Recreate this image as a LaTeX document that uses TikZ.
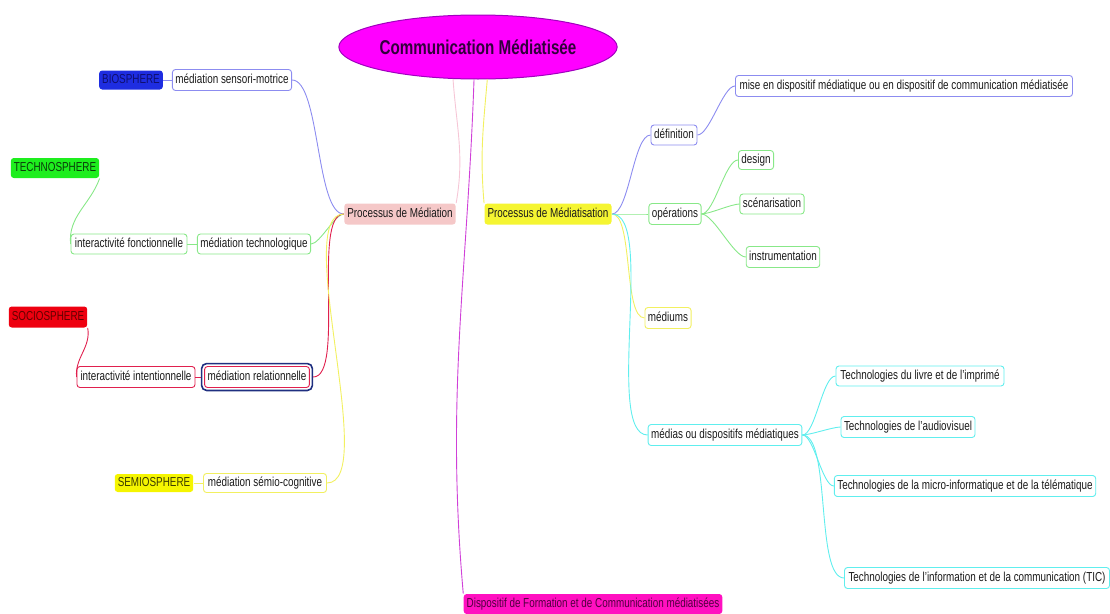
\documentclass[tikz,border=0pt]{standalone}
\usepackage{fontspec}
\setmainfont{Liberation Sans}[FakeStretch=0.76]
\usetikzlibrary{fit,shapes.geometric}
\definecolor{cblue}{HTML}{8C8CF0}
\definecolor{cgreen}{HTML}{88E888}
\definecolor{cred}{HTML}{E0204E}
\definecolor{cyel}{HTML}{F2F060}
\definecolor{ccyan}{HTML}{60EEEE}
\definecolor{cpink}{HTML}{F6C6D6}
\definecolor{cmag}{HTML}{D040D8}
\definecolor{ctext}{HTML}{1A1A1A}
\definecolor{navyf}{HTML}{1F2F80}
\tikzset{
  box/.style={rounded corners=3pt, line width=0.9pt, fill=white, inner xsep=3pt, inner ysep=0pt,
    minimum height=20pt, text height=9.5pt, text depth=2.5pt, font=\fontsize{13}{14}\selectfont, text=ctext},
  sphere/.style={box, draw=none},
  link/.style={line width=0.9pt},
}
\begin{document}
\begin{tikzpicture}[x=1pt,y=-1pt]
\useasboundingbox (0,0) rectangle (1110,613);
% root
\node[ellipse, draw={rgb,255:red,160;green,0;blue,190}, line width=1pt, fill={rgb,255:red,255;green,0;blue,255},
  minimum width=222pt, minimum height=64pt, inner sep=0pt,
  font=\bfseries\fontsize{20}{21}\selectfont, text={rgb,255:red,50;green,0;blue,60}] (root) at (478,47) {Communication Médiatisée};
% left branch
\node[box, fill={rgb,255:red,245;green,200;blue,200}, draw=none, minimum width=110pt, minimum height=21pt] (pm) at (400,214) {Processus de Médiation};
\node[sphere, fill={rgb,255:red,30;green,45;blue,225}, text={rgb,255:red,15;green,15;blue,110}, minimum width=62pt, minimum height=19pt] (bio) at (131,80) {BIOSPHERE};
\node[box, draw=cblue, minimum width=119pt, minimum height=21pt] (sm) at (232,80) {médiation sensori-motrice};
\node[sphere, fill={rgb,255:red,30;green,238;blue,30}, text={rgb,255:red,10;green,60;blue,10}, minimum width=88pt] (techno) at (55,168) {TECHNOSPHERE};
\node[box, draw=cgreen, minimum width=116pt] (if) at (129,244) {interactivité fonctionnelle};
\node[box, draw=cgreen, minimum width=113pt] (mt) at (254,244) {médiation technologique};
\node[sphere, fill={rgb,255:red,238;green,0;blue,16}, text={rgb,255:red,100;green,0;blue,0}, minimum width=77pt, minimum height=21pt] (socio) at (48,317) {SOCIOSPHERE};
\node[box, draw=cred, minimum width=118pt, minimum height=21pt] (ii) at (136,377) {interactivité intentionnelle};
\node[box, draw=cred, minimum width=103pt, minimum height=21pt] (mr) at (257,377) {médiation relationnelle};
\node[fit=(mr), draw=navyf, rounded corners=5pt, line width=1.6pt, inner sep=2.5pt] (mrf) {};
\node[sphere, fill={rgb,255:red,245;green,245;blue,0}, text={rgb,255:red,60;green,60;blue,0}, minimum width=77pt, minimum height=18pt] (semio) at (154,483) {SEMIOSPHERE};
\node[box, draw=cyel, minimum width=123pt, minimum height=19pt] (sc) at (265,483) {médiation sémio-cognitive};
% right branch
\node[box, fill={rgb,255:red,245;green,245;blue,50}, draw=none, minimum width=127pt, minimum height=21pt] (pmt) at (548,214) {Processus de Médiatisation};
\node[box, draw=cblue, minimum width=46pt] (def) at (674,135) {définition};
\node[box, draw=cblue, minimum width=337pt, minimum height=21pt] (mise) at (904,86) {mise en dispositif médiatique ou en dispositif de communication médiatisée};
\node[box, draw=cgreen, minimum width=50pt, minimum height=21pt] (op) at (675,214) {opérations};
\node[box, draw=cgreen, minimum width=33pt, minimum height=19pt] (design) at (756,160) {design};
\node[box, draw=cgreen, minimum width=63pt] (scen) at (772,204) {scénarisation};
\node[box, draw=cgreen, minimum width=73pt, minimum height=21pt] (instr) at (783,257) {instrumentation};
\node[box, draw=cyel, minimum width=46pt, minimum height=21pt] (mdm) at (668,318) {médiums};
\node[box, draw=ccyan, minimum width=150pt, minimum height=21pt] (mdia) at (725,435) {médias ou dispositifs médiatiques};
\node[box, draw=ccyan, minimum width=168pt] (t1) at (920,376) {Technologies du livre et de l'imprimé};
\node[box, draw=ccyan, minimum width=133pt, minimum height=21pt] (t2) at (908,427) {Technologies de l'audiovisuel};
\node[box, draw=ccyan, minimum width=260pt, minimum height=21pt] (t3) at (965,486) {Technologies de la micro-informatique et de la télématique};
\node[box, draw=ccyan, minimum width=265pt, minimum height=21pt] (t4) at (977,578) {Technologies de l'information et de la communication (TIC)};
\node[box, fill={rgb,255:red,255;green,16;blue,192}, draw=none, minimum width=257pt, text={rgb,255:red,80;green,0;blue,64}] (disp) at (593,604) {Dispositif de Formation et de Communication médiatisées};
% connectors from root
\draw[link, cpink] (root.232) to[out=-86,in=80] (pm.north east);
\draw[link, cyel] (root.286) to[out=-95,in=95] (pmt.north west);
\draw[link, cmag] (root.263) to[out=-92,in=95] (disp.north west);
% left connectors
\draw[link, cblue] (pm.west) to[out=180,in=0,looseness=0.5] (sm.east);
\draw[link, cgreen] (pm.west) to[out=180,in=0,looseness=0.5] (mt.east);
\draw[link, cred] (pm.west) to[out=180,in=0,looseness=0.5] (mrf.east);
\draw[link, cyel] (pm.west) to[out=180,in=0,looseness=0.5] (sc.east);
\draw[link, cblue] (sm.west) -- (bio.east);
\draw[link, cgreen] (mt.west) -- (if.east);
\draw[link, cgreen] (if.west) to[out=95,in=-110] (techno.south east);
\draw[link, cred] (mrf.west) -- (ii.east);
\draw[link, cred] (ii.west) to[out=95,in=-80] (socio.south east);
\draw[link, cyel] (sc.west) -- (semio.east);
% right connectors
\draw[link, cblue] (pmt.east) to[out=0,in=180,looseness=0.5] (def.west);
\draw[link, cgreen] (pmt.east) to[out=0,in=180,looseness=0.5] (op.west);
\draw[link, cyel] (pmt.east) to[out=0,in=180,looseness=0.5] (mdm.west);
\draw[link, ccyan] (pmt.east) to[out=0,in=180,looseness=0.5] (mdia.west);
\draw[link, cblue] (def.east) to[out=0,in=180,looseness=0.5] (mise.west);
\draw[link, cgreen] (op.east) to[out=0,in=180,looseness=0.5] (design.west);
\draw[link, cgreen] (op.east) to[out=0,in=180,looseness=0.5] (scen.west);
\draw[link, cgreen] (op.east) to[out=0,in=180,looseness=0.5] (instr.west);
\draw[link, ccyan] (mdia.east) to[out=0,in=180,looseness=0.5] (t1.west);
\draw[link, ccyan] (mdia.east) to[out=0,in=180,looseness=0.5] (t2.west);
\draw[link, ccyan] (mdia.east) to[out=0,in=180,looseness=0.5] (t3.west);
\draw[link, ccyan] (mdia.east) to[out=0,in=180,looseness=0.5] (t4.west);
\end{tikzpicture}
\end{document}
